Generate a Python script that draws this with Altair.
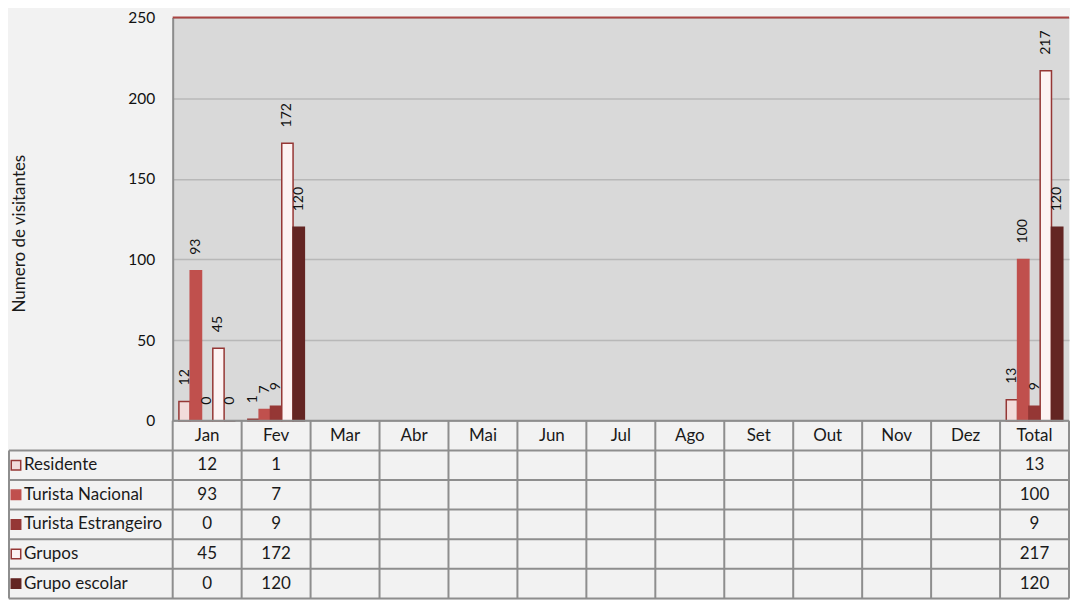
import altair as alt
import pandas as pd

months = ["Jan", "Fev", "Mar", "Abr", "Mai", "Jun", "Jul", "Ago", "Set", "Out", "Nov", "Dez", "Total"]
series = ["Residente", "Turista Nacional", "Turista Estrangeiro", "Grupos", "Grupo escolar"]

residente = [12, 1, None, None, None, None, None, None, None, None, None, None, 13]
turista_nacional = [93, 7, None, None, None, None, None, None, None, None, None, None, 100]
turista_estrangeiro = [0, 9, None, None, None, None, None, None, None, None, None, None, 9]
grupos = [45, 172, None, None, None, None, None, None, None, None, None, None, 217]
grupo_escolar = [0, 120, None, None, None, None, None, None, None, None, None, None, 120]

y_ticks = [0, 50, 100, 150, 200, 250]

fills = ["#f2dcdb", "#c0504d", "#953735", "#fdf3f3", "#632523"]
strokes = ["#953735", "#c0504d", "#953735", "#953735", "#632523"]

FONT = "Lato"
PLOT_W = 898
PLOT_H = 404
TABLE_H = 178
LABEL_COL_PX = 164
col_w = PLOT_W / len(months)
label_col = LABEL_COL_PX / col_w
n_cols = len(months)
n_rows = len(series) + 1

all_values = [residente, turista_nacional, turista_estrangeiro, grupos, grupo_escolar]

rows = []
for s, vals in zip(series, all_values):
    for m, v in zip(months, vals):
        if v is not None:
            rows.append({"month": m, "series": s, "value": v})
bars_df = pd.DataFrame(rows)

fill_scale = alt.Scale(domain=series, range=fills)
stroke_scale = alt.Scale(domain=series, range=strokes)

x_enc = alt.X("month:N", scale=alt.Scale(domain=months, paddingInner=0, paddingOuter=0), axis=None)
xo_enc = alt.XOffset("series:N", scale=alt.Scale(domain=series, paddingInner=0, paddingOuter=0.55))
y_scale = alt.Scale(domain=[0, 250], nice=False)

bars = alt.Chart(bars_df).mark_bar(strokeWidth=1.5).encode(
    x=x_enc,
    xOffset=xo_enc,
    y=alt.Y("value:Q", scale=y_scale,
            axis=alt.Axis(values=y_ticks, title="Numero de visitantes", ticks=False,
                          labelPadding=18, labelFontSize=15.5, labelColor="#111",
                          labelFont=FONT, titleFont=FONT, titleFontSize=17,
                          titleFontWeight="normal", titleColor="#1a1a1a",
                          titleX=-153, titleY=216, titleBaseline="middle",
                          domainColor="#8c8c8c", domainWidth=2,
                          grid=True, gridColor="#b8b8b8", gridWidth=1.5)),
    fill=alt.Fill("series:N", scale=fill_scale, legend=None),
    stroke=alt.Stroke("series:N", scale=stroke_scale, legend=None),
)

labels = alt.Chart(bars_df).mark_text(
    angle=270, align="left", baseline="middle", dx=16, fontSize=14, font=FONT, color="#111"
).encode(
    x=x_enc,
    xOffset=xo_enc,
    y=alt.Y("value:Q", scale=y_scale),
    text="value:Q",
)

top_line = alt.Chart(pd.DataFrame({"top": [250]})).mark_rule(color="#a94442", strokeWidth=2).encode(
    y=alt.datum(250)
)

top = alt.layer(bars, labels, top_line).properties(
    width=PLOT_W, height=PLOT_H,
    view=alt.ViewBackground(fill="#d9d9d9", stroke=None),
)

# ---- data table ----
seg = []
for r in range(n_rows + 1):
    seg.append({"x": 0 if r == 0 else -label_col, "x2": n_cols, "y": r, "y2": r})
seg.append({"x": -label_col, "x2": -label_col, "y": 1, "y2": n_rows})
for c in range(n_cols + 1):
    seg.append({"x": c, "x2": c, "y": 0, "y2": n_rows})
seg_df = pd.DataFrame(seg)

cells = []
for c, m in enumerate(months):
    cells.append({"x": c + 0.5, "y": 0.5, "text": m})
for r, vals in enumerate(all_values):
    for c, v in enumerate(vals):
        if v is not None:
            cells.append({"x": c + 0.5, "y": r + 1.5, "text": str(v)})
cells_df = pd.DataFrame(cells)

swatch_pos = -label_col + 7 / col_w
text_pos = -label_col + 15 / col_w
row_df = pd.DataFrame({
    "series": series,
    "y": [r + 1.5 for r in range(len(series))],
    "sx": [swatch_pos] * len(series),
    "tx": [text_pos] * len(series),
})

tx_scale = alt.Scale(domain=[0, n_cols], nice=False, zero=False)
ty_scale = alt.Scale(domain=[0, n_rows], nice=False, zero=False, reverse=True)

grid_lines = alt.Chart(seg_df).mark_rule(color="#8e8e8e", strokeWidth=2).encode(
    x=alt.X("x:Q", scale=tx_scale, axis=None),
    x2="x2:Q",
    y=alt.Y("y:Q", scale=ty_scale, axis=None),
    y2="y2:Q",
)

cell_text = alt.Chart(cells_df).mark_text(
    fontSize=17, font=FONT, color="#1a1a1a", baseline="middle", align="center"
).encode(
    x=alt.X("x:Q", scale=tx_scale, axis=None),
    y=alt.Y("y:Q", scale=ty_scale, axis=None),
    text="text:N",
)

swatches = alt.Chart(row_df).mark_square(size=90, strokeWidth=1.5, opacity=1, filled=True).encode(
    x=alt.X("sx:Q", scale=tx_scale, axis=None),
    y=alt.Y("y:Q", scale=ty_scale, axis=None),
    fill=alt.Fill("series:N", scale=fill_scale, legend=None),
    stroke=alt.Stroke("series:N", scale=stroke_scale, legend=None),
)

row_labels = alt.Chart(row_df).mark_text(
    fontSize=17, font=FONT, color="#1a1a1a", baseline="middle", align="left"
).encode(
    x=alt.X("tx:Q", scale=tx_scale, axis=None),
    y=alt.Y("y:Q", scale=ty_scale, axis=None),
    text="series:N",
)

table = alt.layer(grid_lines, cell_text, swatches, row_labels).properties(
    width=PLOT_W, height=TABLE_H,
    view=alt.ViewBackground(stroke=None),
)

chart = alt.vconcat(top, table, spacing=0, bounds="flush").configure(
    background="#f2f2f2", padding={"top": 2, "left": 0, "right": 0, "bottom": 0}, font=FONT
).configure_view(stroke=None)

chart.save("out.html", embed_options={"renderer": "svg", "actions": False})
